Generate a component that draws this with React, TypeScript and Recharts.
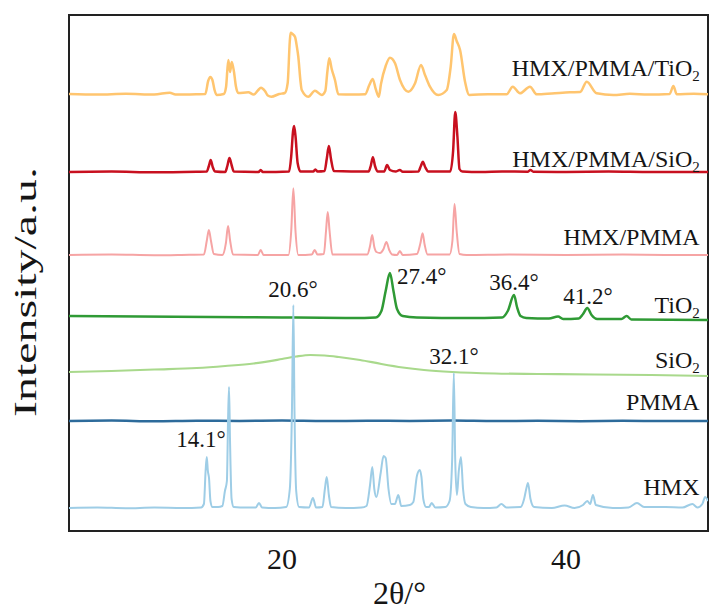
import React from 'react'
import { LineChart, Line, XAxis, YAxis, ReferenceDot, ReferenceArea, Label } from 'recharts'

const SERIF = '"Liberation Serif", "Times New Roman", serif'
const INK = '#151515'
const FRAME = '#222'

// XRD traces: [2θ (deg), intensity (a.u., stacked offset included)]
const hmx: [number, number][] = [
  [5, 23], [7, 23.5], [9, 22.8], [11, 23.4], [13, 23], [14.3, 23.5], [14.5, 27], [14.62, 60], [14.7, 74],
  [14.78, 60], [14.86, 53], [14.96, 30], [15.1, 24], [15.5, 24], [15.8, 25], [15.98, 40], [16.12, 50],
  [16.2, 110], [16.27, 144], [16.34, 90], [16.45, 32], [16.6, 24], [17.5, 23.5], [18.15, 23.5], [18.38, 28],
  [18.6, 23.5], [19.5, 23], [20.3, 24], [20.55, 42], [20.7, 120], [20.8, 226], [20.88, 120], [21.0, 40],
  [21.2, 24], [21.9, 23.5], [22.18, 33], [22.4, 23.5], [22.85, 24], [23.02, 42], [23.15, 54], [23.3, 36],
  [23.45, 24], [24.5, 23], [25.6, 23.5], [25.95, 25], [26.2, 46], [26.36, 64], [26.5, 42], [26.65, 34],
  [26.95, 58], [27.15, 75], [27.3, 73], [27.5, 42], [27.7, 27], [27.95, 27], [28.19, 36], [28.4, 25],
  [29.0, 26], [29.25, 29], [29.5, 55], [29.7, 61], [29.82, 54], [29.95, 32], [30.15, 24], [30.35, 24],
  [30.54, 28], [30.8, 23.5], [31.5, 24], [31.8, 30], [31.98, 70], [32.1, 158], [32.2, 70], [32.32, 36],
  [32.45, 60], [32.6, 74], [32.75, 42], [32.92, 27], [33.3, 24], [34.2, 23], [35.1, 23.5], [35.45, 27],
  [35.8, 23.5], [36.8, 24], [37.05, 32], [37.2, 42], [37.32, 48], [37.5, 32], [37.75, 24], [39.0, 23],
  [39.9, 25.5], [40.6, 23], [41.2, 26], [41.5, 30], [41.7, 27], [41.9, 36], [42.1, 26], [43.3, 23],
  [44.4, 23.5], [45.0, 28], [45.5, 24], [47.0, 24], [48.2, 23.5], [48.9, 27], [49.25, 23.5], [49.6, 27],
  [49.8, 34], [50, 30],
]

const pmma: [number, number][] = [
  [5, 110], [8, 110.4], [11, 109.8], [14, 110.3], [17, 110], [20, 110.4], [23, 109.9], [26, 110.3],
  [29, 110], [32, 110.4], [35, 109.9], [38, 110.2], [41, 109.8], [44, 110.2], [47, 109.9], [50, 110],
]

const sio2: [number, number][] = [
  [5, 159], [8, 160], [11, 161.5], [14, 163], [16, 165], [18, 167.5], [20, 172], [21, 174.5], [22, 176],
  [23, 175.5], [24, 174], [25.5, 171], [27, 167], [28.5, 163.5], [30, 161], [32, 159], [35, 157.5],
  [38, 157], [42, 156.5], [46, 156], [50, 155],
]

const tio2: [number, number][] = [
  [5, 215], [10, 214.5], [15, 214], [20, 213.5], [25, 213], [26.6, 213.5], [27.0, 220], [27.3, 240],
  [27.6, 258], [27.85, 240], [28.1, 222], [28.5, 215], [29.5, 213.5], [33, 213], [35.5, 213.5], [35.9, 220],
  [36.34, 236], [36.55, 224], [36.8, 215], [37.2, 213], [38.8, 212.5], [39.44, 214.5], [39.8, 212],
  [40.9, 212.5], [41.2, 217], [41.5, 223], [41.8, 216], [42.2, 212], [43.9, 212], [44.27, 215], [44.6, 211.5],
  [50, 211],
]

const hmxPmma: [number, number][] = [
  [5, 276], [8, 276.5], [11, 275.8], [13.5, 276.3], [14.5, 276.5], [14.7, 290], [14.85, 301], [15.0, 290],
  [15.2, 277], [15.8, 276], [16.05, 288], [16.2, 305], [16.35, 290], [16.55, 276.5], [18.3, 276], [18.5, 281],
  [18.7, 276], [20.45, 276], [20.65, 300], [20.8, 342.7], [20.95, 300], [21.15, 276], [22.1, 276.5],
  [22.3, 281], [22.5, 276.5], [22.95, 277], [23.1, 300], [23.22, 319], [23.35, 300], [23.55, 276.5],
  [26.0, 276.5], [26.2, 285], [26.35, 296], [26.5, 284], [26.65, 279], [26.9, 278], [27.15, 282],
  [27.35, 289], [27.55, 281], [27.75, 276.5], [28.1, 276], [28.3, 280], [28.5, 276], [29.5, 277],
  [29.75, 288], [29.9, 297.7], [30.05, 286], [30.25, 276.5], [31.8, 276.5], [32.0, 290], [32.15, 327],
  [32.3, 300], [32.5, 277], [33, 276], [36, 276.5], [40, 276], [44, 276.4], [47, 276], [50, 276],
]

const hmxPmmaSio2: [number, number][] = [
  [5, 359], [8, 359.4], [11, 358.8], [14, 359.3], [14.7, 359.5], [14.85, 365], [14.98, 371], [15.12, 364],
  [15.3, 359.5], [16.0, 359], [16.15, 365], [16.3, 373], [16.45, 366], [16.6, 359.5], [18.35, 359],
  [18.5, 361], [18.65, 359], [20.5, 359.5], [20.65, 375], [20.78, 400], [20.85, 405], [20.95, 395],
  [21.1, 368], [21.3, 359.5], [22.2, 359.5], [22.35, 361.5], [22.5, 359.5], [23.0, 360], [23.15, 372],
  [23.3, 385], [23.45, 372], [23.65, 360], [26.1, 359.5], [26.25, 365], [26.4, 373.7], [26.55, 365],
  [26.75, 359.5], [27.2, 359.5], [27.4, 366], [27.6, 361], [28.0, 359.5], [28.3, 361], [28.5, 359.3],
  [29.6, 359.5], [29.78, 365], [29.92, 369.3], [30.08, 364], [30.3, 359.5], [31.85, 359.5], [32.05, 380],
  [32.2, 419], [32.35, 395], [32.5, 362], [32.7, 359.5], [34, 359], [35.5, 359.5], [37.3, 359.3],
  [37.5, 361], [37.7, 359.3], [40, 359], [43, 359.4], [46, 358.9], [50, 359],
]

const hmxPmmaTio2: [number, number][] = [
  [5, 437], [7, 436.5], [9, 437.2], [11, 436.5], [12.1, 438.3], [12.5, 436.5], [14.0, 436.8], [14.6, 437],
  [14.8, 450], [14.95, 454], [15.1, 451], [15.25, 441], [15.4, 436], [15.9, 437], [16.06, 444], [16.22, 471],
  [16.34, 459], [16.46, 469], [16.62, 459], [16.75, 445], [16.92, 438], [17.63, 438.7], [18.0, 436.5],
  [18.3, 440.5], [18.52, 443.3], [18.8, 440], [19.0, 435.5], [19.25, 434.3], [19.8, 437], [20.2, 438],
  [20.4, 448], [20.55, 490], [20.61, 498.3], [20.75, 497], [20.92, 494], [21.05, 484], [21.15, 474],
  [21.3, 450], [21.39, 441], [21.85, 434.3], [22.32, 440.3], [22.8, 436], [23.05, 440], [23.2, 460],
  [23.33, 472.7], [23.5, 462], [23.73, 451], [23.97, 436.7], [25.0, 436.5], [25.85, 436.7], [26.15, 446],
  [26.39, 452], [26.6, 442], [26.82, 434.3], [26.97, 447], [27.3, 465], [27.6, 473.3], [27.96, 467.7],
  [28.31, 451], [28.9, 439.3], [29.37, 447.7], [29.79, 466], [30.07, 456], [30.42, 444.3], [31.0, 436],
  [31.6, 441], [31.88, 464.3], [32.11, 497], [32.3, 490], [32.54, 481], [32.89, 449.3], [33.19, 436],
  [34.5, 436.8], [35.82, 436.7], [36.25, 444.3], [36.76, 437.7], [37.46, 444.3], [37.94, 436.7],
  [39.0, 437.5], [40.28, 438.7], [41.0, 439], [41.46, 449.3], [42.16, 437.7], [43.33, 436], [44.5, 437.2],
  [45.8, 436.5], [47.3, 437], [47.56, 445], [47.8, 436.7], [49, 437.2], [50, 436.7],
]

const xTicks = [20, 40]

// trace name, subscript, label anchor (2θ, intensity)
const traceTags: [string, string, number, number][] = [
  ['HMX/PMMA/TiO', '2', 49.42, 455],
  ['HMX/PMMA/SiO', '2', 49.42, 364.3],
  ['HMX/PMMA', '', 49.4, 286],
  ['TiO', '2', 49.42, 218.3],
  ['SiO', '2', 49.42, 162.7],
  ['PMMA', '', 49.4, 121],
  ['HMX', '', 49.4, 36],
]

// peak label, 2θ, intensity, anchor
const peakTags: [string, number, number, 'start' | 'middle'][] = [
  ['20.6°', 20.77, 234.3, 'middle'],
  ['27.4°', 28.1, 247, 'start'],
  ['36.4°', 36.34, 241, 'middle'],
  ['41.2°', 41.55, 227, 'middle'],
  ['32.1°', 32.11, 167, 'middle'],
  ['14.1°', 14.3, 84.3, 'middle'],
]

const rows = (pts: [number, number][]) => pts.map(([t, v]) => ({ t, v }))

const traces = [
  { key: 'sio2', pts: sio2, color: '#a9d98c', width: 2.2 },
  { key: 'pmma', pts: pmma, color: '#2d6b9b', width: 2.5 },
  { key: 'tio2', pts: tio2, color: '#2f9a35', width: 2.5 },
  { key: 'hmxPmma', pts: hmxPmma, color: '#f6a4a4', width: 2 },
  { key: 'hmxPmmaSio2', pts: hmxPmmaSio2, color: '#c8101f', width: 2.5 },
  { key: 'hmxPmmaTio2', pts: hmxPmmaTio2, color: '#ffc56f', width: 2.5 },
  { key: 'hmx', pts: hmx, color: '#9ecde6', width: 2 },
]

// rotated y title, stretched along the axis like the original figure
const YTitle = ({ viewBox }: { viewBox?: { x: number; y: number; width: number; height: number } }) => {
  if (!viewBox) return null
  const cx = viewBox.x + 36
  const cy = viewBox.y + viewBox.height / 2 + 19
  return (
    <text x={cx} y={cy} transform={`rotate(-90, ${cx}, ${cy})`} textAnchor="middle"
      fontFamily={SERIF} fontSize={32} fill={INK} textLength={250} lengthAdjust="spacingAndGlyphs">
      Intensity/a.u.
    </text>
  )
}

export default function App() {
  return (
    <div style={{ position: 'absolute', left: 0, top: 0, background: '#fff' }}>
      <LineChart width={721} height={616} margin={{ top: 15, right: 13, bottom: 0, left: 0 }}>
        <XAxis
          type="number" dataKey="t" domain={[5, 50]} ticks={xTicks} allowDataOverflow
          height={85} tickLine={false} tickSize={0} tickMargin={17} axisLine={false}
          tick={{ fontSize: 30, fontFamily: SERIF, fill: INK }}
        >
          <Label value="2θ/°" position="insideBottom" offset={12} dx={11}
            style={{ fontSize: 32, fontFamily: SERIF, fill: INK }} />
        </XAxis>
        <YAxis type="number" domain={[0, 516]} width={69} tick={false} tickLine={false} axisLine={false}>
          <Label content={<YTitle />} />
        </YAxis>

        {traces.map((s) => (
          <Line key={s.key} data={rows(s.pts)} dataKey="v" type="monotone" stroke={s.color}
            strokeWidth={s.width} dot={false} activeDot={false} isAnimationActive={false} />
        ))}

        <ReferenceArea x1={5} x2={50} y1={0} y2={516} fill="none" stroke={FRAME} strokeWidth={2}
          ifOverflow="visible" />

        {traceTags.map(([name, sub, t, v]) => (
          <ReferenceDot key={name + sub} x={t} y={v} r={0} ifOverflow="visible"
            shape={(p: { cx?: number; cy?: number }) => (
              <text x={p.cx} y={p.cy} textAnchor="end" fontFamily={SERIF} fontSize={24} fill={INK}>
                {name}
                {sub && <tspan fontSize={15} dy={5}>{sub}</tspan>}
              </text>
            )}
          />
        ))}

        {peakTags.map(([txt, t, v, anchor]) => (
          <ReferenceDot key={txt} x={t} y={v} r={0} ifOverflow="visible"
            shape={(p: { cx?: number; cy?: number }) => (
              <text x={p.cx} y={p.cy} textAnchor={anchor} fontFamily={SERIF} fontSize={23} fill={INK}>
                {txt}
              </text>
            )}
          />
        ))}
      </LineChart>
    </div>
  )
}
